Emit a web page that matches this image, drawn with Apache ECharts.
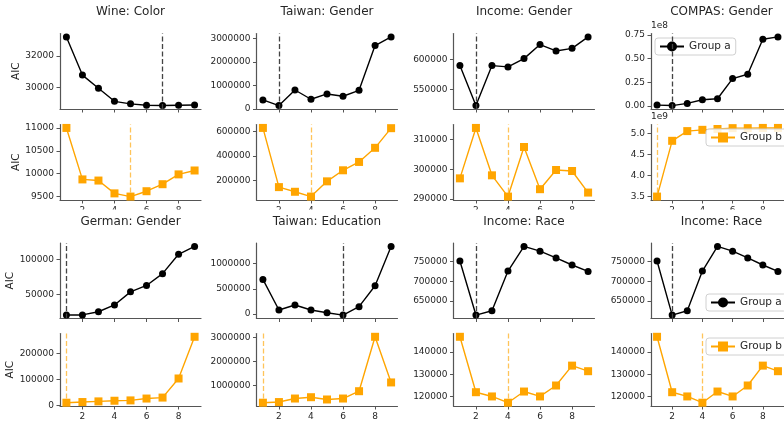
<!DOCTYPE html>
<html><head><meta charset="utf-8">
<script src="https://cdn.jsdelivr.net/npm/echarts@6/dist/echarts.min.js"></script>
<style>html,body{margin:0;padding:0;background:#fff}#c{width:784px;height:421px}</style>
</head><body><div id="c"></div>
<script>
// ---------------- data ----------------
const xs = [1, 2, 3, 4, 5, 6, 7, 8, 9];
const titles = ['Wine: Color', 'Taiwan: Gender', 'Income: Gender', 'COMPAS: Gender',
                'German: Gender', 'Taiwan: Education', 'Income: Race', 'Income: Race'];

const wineTop   = [33200, 30770, 29930, 29100, 28940, 28850, 28830, 28850, 28870];
const wineBot   = [11000, 9875, 9850, 9570, 9500, 9617, 9770, 9985, 10070];
const twgTop    = [380000, 140000, 805000, 410000, 636000, 538000, 790000, 2700000, 3070000];
const twgBot    = [627000, 145000, 107000, 68000, 192000, 282000, 350000, 465000, 625000];
const incgTop   = [589900, 522600, 589900, 587700, 601700, 625300, 614600, 619000, 638200];
const incgBot   = [296950, 313970, 297970, 290800, 307530, 293290, 299760, 299430, 292150];
const compasTop = [1.0e6, 0.5e6, 2.8e6, 6.7e6, 7.7e6, 29.0e6, 33.6e6, 70.5e6, 73.0e6];
const compasBot = [3.50e9, 4.82e9, 5.05e9, 5.08e9, 5.10e9, 5.12e9, 5.12e9, 5.125e9, 5.125e9];
const gerTop    = [20000, 20200, 24800, 34600, 53500, 62700, 79700, 107700, 119000];
const gerBot    = [10100, 12700, 15200, 17700, 19000, 26200, 29900, 103700, 264800];
const tweTop    = [686000, 80000, 180000, 80000, 26000, -20000, 146000, 560000, 1340000];
const tweBot    = [286000, 313000, 460000, 515000, 420000, 460000, 765000, 3030000, 1130000];
const incrTop   = [751500, 614100, 625100, 725900, 788500, 776400, 759200, 741300, 725100];
const incrBot   = [146800, 122000, 120100, 117300, 122300, 120100, 125000, 133900, 131400];

const bestTop = [7, 2, 2, 2, 1, 6, 2, 2];
const bestBot = [5, 4, 4, 1, 1, 1, 4, 4];

// tick values
const xTicks = [2, 4, 6, 8];
const wineTopTicks = [30000, 32000];
const wineBotTicks = [9500, 10000, 10500, 11000];
const twgTopTicks = [0, 1000000, 2000000, 3000000];
const twgBotTicks = [200000, 400000, 600000];
const incgTopTicks = [550000, 600000];
const incgBotTicks = [290000, 300000, 310000];
const compasTopTicks = [0, 0.25e8, 0.5e8, 0.75e8];
const compasBotTicks = [3.5e9, 4.0e9, 4.5e9, 5.0e9];
const gerTopTicks = [50000, 100000];
const gerBotTicks = [0, 100000, 200000];
const tweTopTicks = [0, 500000, 1000000];
const tweBotTicks = [1000000, 2000000, 3000000];
const incrTopTicks = [650000, 700000, 750000];
const incrBotTicks = [120000, 130000, 140000];

const topSeries = [wineTop, twgTop, incgTop, compasTop, gerTop, tweTop, incrTop, incrTop];
const botSeries = [wineBot, twgBot, incgBot, compasBot, gerBot, tweBot, incrBot, incrBot];
const topTicks = [wineTopTicks, twgTopTicks, incgTopTicks, compasTopTicks, gerTopTicks, tweTopTicks, incrTopTicks, incrTopTicks];
const botTicks = [wineBotTicks, twgBotTicks, incgBotTicks, compasBotTicks, gerBotTicks, tweBotTicks, incrBotTicks, incrBotTicks];

// ---------------- layout ----------------
const FONT = 'DejaVu Sans';
const colLeft = [60, 256.5, 453.5, 651];
const gridW = 141;
const rowTopA = [33.5, 243];
const rowTopB = [124.5, 333.5];
const gridH = [[75.5, 75.5], [75.5, 74.5]];
const titleTop = [6, 216];
const AXC = '#555';
const TXT = '#262626';
const ORANGE = '#FFA500';

const grids = [], xAxes = [], yAxes = [], series = [], titleArr = [];
const pad = {
  min: v => v.min - 0.05 * (v.max - v.min),
  max: v => v.max + 0.05 * (v.max - v.min)
};
function fmtFor(p, isTop) {
  if (p === 3 && isTop) return v => (v / 1e8).toFixed(2);
  if (p === 3 && !isTop) return v => (v / 1e9).toFixed(1);
  return v => String(Math.round(v));
}

for (let p = 0; p < 8; p++) {
  const r = Math.floor(p / 4), c = p % 4;
  titleArr.push({
    text: titles[p], left: colLeft[c] + gridW / 2, top: titleTop[r], textAlign: 'center', padding: 0,
    textStyle: { fontFamily: FONT, fontSize: 12, fontWeight: 'normal', color: TXT }
  });
  for (let k = 0; k < 2; k++) {
    const isTop = k === 0;
    const gi = grids.length;
    grids.push({ left: colLeft[c], top: isTop ? rowTopA[r] : rowTopB[r], width: gridW, height: gridH[r][k] });
    xAxes.push({
      type: 'value', gridIndex: gi, min: 0.6, max: 9.4,
      axisLine: { show: true, onZero: false, lineStyle: { color: AXC, width: 1.2 } },
      axisTick: { show: true, length: 3.5, customValues: xTicks, lineStyle: { color: AXC, width: 1 } },
      axisLabel: { show: !isTop, customValues: xTicks, fontFamily: FONT, fontSize: 9, color: TXT, margin: 6 },
      splitLine: { show: false }
    });
    const ticks = isTop ? topTicks[p] : botTicks[p];
    const ya = {
      type: 'value', gridIndex: gi, min: pad.min, max: pad.max, scale: true,
      axisLine: { show: true, onZero: false, lineStyle: { color: AXC, width: 1.2 } },
      axisTick: { show: true, length: 3.5, customValues: ticks, lineStyle: { color: AXC, width: 1 } },
      axisLabel: { customValues: ticks, fontFamily: FONT, fontSize: 9, color: TXT, margin: 6, formatter: fmtFor(p, isTop) },
      splitLine: { show: false }
    };
    if (c === 0) {
      ya.name = 'AIC'; ya.nameLocation = 'middle'; ya.nameRotate = 90; ya.nameGap = 35;
      ya.nameTextStyle = { fontFamily: FONT, fontSize: 10.5, color: TXT };
    }
    if (p === 3) {
      ya.name = isTop ? '1e8' : '1e9'; ya.nameLocation = 'end'; ya.nameGap = 3;
      ya.nameTextStyle = { fontFamily: FONT, fontSize: 9, color: TXT, align: 'left', verticalAlign: 'bottom' };
    }
    yAxes.push(ya);
    const vals = isTop ? topSeries[p] : botSeries[p];
    series.push({
      type: 'line', name: isTop ? 'Group a' : 'Group b',
      xAxisIndex: gi, yAxisIndex: gi,
      data: xs.map((x, i) => [x, vals[i]]),
      symbol: isTop ? 'circle' : 'rect', symbolSize: isTop ? 7 : 8,
      itemStyle: { color: isTop ? '#000' : ORANGE },
      lineStyle: { color: isTop ? '#000' : ORANGE, width: 1.4 },
      z: 3,
      markLine: {
        symbol: ['none', 'none'], silent: true, animation: false, label: { show: false },
        lineStyle: { type: [5, 2.5], width: 1.3, color: isTop ? '#444' : 'rgba(255,165,0,0.65)' },
        data: [{ xAxis: isTop ? bestTop[p] : bestBot[p] }]
      }
    });
  }
}

function legendAt(name, left, top) {
  return {
    data: [name], left: left, top: top, orient: 'horizontal',
    backgroundColor: 'rgba(255,255,255,0.85)', borderColor: '#d0d0d0', borderWidth: 1, borderRadius: 3,
    padding: [3, 5, 3, 4], itemWidth: 24, itemHeight: 12.5, itemGap: 5,
    textStyle: { fontFamily: FONT, fontSize: 10.5, color: TXT },
    selectedMode: false
  };
}

const option = {
  animation: false,
  backgroundColor: '#fff',
  title: titleArr,
  grid: grids, xAxis: xAxes, yAxis: yAxes, series: series,
  legend: [
    legendAt('Group a', 655, 38),
    legendAt('Group b', 706, 129),
    legendAt('Group a', 706, 294),
    legendAt('Group b', 706, 338)
  ],
  graphic: [{ type: 'rect', z: 100, shape: { x: 0, y: 209.5, width: 784, height: 5.5 }, style: { fill: '#fff' } }]
};
const chart = echarts.init(document.getElementById('c'), null, { renderer: 'canvas' });
chart.setOption(option);
</script></body></html>
